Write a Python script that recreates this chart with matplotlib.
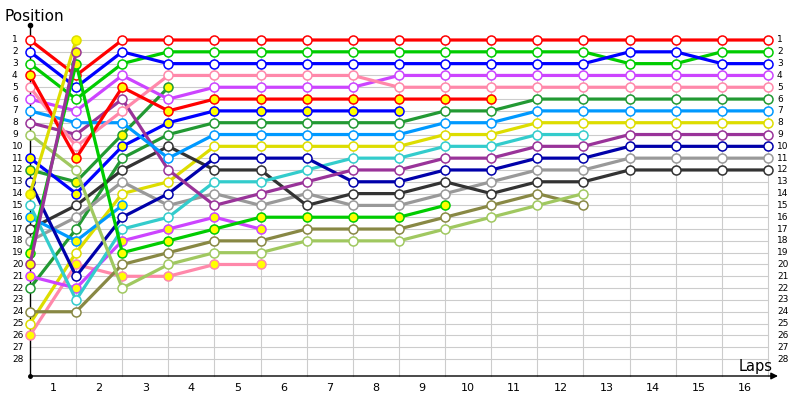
import matplotlib
matplotlib.use("Agg")
import matplotlib.pyplot as plt

N = None
laps = list(range(0, 17))
lap_labels = [str(i) for i in range(1, 17)]
positions = list(range(1, 29))

# position per column (start = column 0), None = retired
red_w      = [1, 4, 1, 1, 1, 1, 1, 1, 1, 1, 1, 1, 1, 1, 1, 1, 1]
blue_w     = [2, 5, 2, 3, 3, 3, 3, 3, 3, 3, 3, 3, 3, 2, 2, 3, 3]
green_w    = [3, 6, 3, 2, 2, 2, 2, 2, 2, 2, 2, 2, 2, 3, 3, 2, 2]
red_y      = [4, 11, 5, 7, 6, 6, 6, 6, 6, 6, 6, N, N, N, N, N, N]
pink_w     = [5, 10, 7, 4, 4, 4, 4, 4, 5, 5, 5, 5, 5, 5, 5, 5, 5]
violet_w   = [6, 7, 4, 6, 5, 5, 5, 5, 4, 4, 4, 4, 4, 4, 4, 4, 4]
azure_w    = [7, 8, 8, 11, 9, 9, 9, 9, 9, 8, 8, 7, 7, 7, 7, 7, 7]
purple_w   = [8, 9, 6, 12, 15, 14, 13, 12, 12, 11, 11, 10, 10, 9, 9, 9, 9]
lgreen_w   = [9, 12, 22, 20, 19, 19, 18, 18, 18, 17, 16, 15, 14, N, N, N, N]
blue_y     = [11, 14, 10, 8, 7, 7, 7, 7, 7, N, N, N, N, N, N, N, N]
dgreen_y   = [12, 13, 9, 5, N, N, N, N, N, N, N, N, N, N, N, N, N]
indigo_w   = [13, 21, 16, 14, 11, 11, 11, 13, 13, 12, 12, 11, 11, 10, 10, 10, 10]
yellow_y   = [14, 1, N, N, N, N, N, N, N, N, N, N, N, N, N, N, N]
cyan_w     = [15, 23, 17, 16, 13, 13, 12, 11, 11, 10, 10, 9, 9, N, N, N, N]
azure_y    = [16, 18, 15, N, N, N, N, N, N, N, N, N, N, N, N, N, N]
dgray_w    = [17, 15, 12, 10, 12, 12, 15, 14, 14, 13, 14, 13, 13, 12, 12, 12, 12]
gray_w     = [18, 16, 13, 15, 14, 15, 14, 15, 15, 14, 13, 12, 12, 11, 11, 11, 11]
green_y    = [19, 3, 19, 18, 17, 16, 16, 16, 16, 15, N, N, N, N, N, N, N]
purple_y   = [20, 2, N, N, N, N, N, N, N, N, N, N, N, N, N, N, N]
violet_y   = [21, 22, 18, 17, 16, 17, N, N, N, N, N, N, N, N, N, N, N]
dgreen_w   = [22, 17, 11, 9, 8, 8, 8, 8, 8, 7, 7, 6, 6, 6, 6, 6, 6]
olive_w    = [24, 24, 20, 19, 18, 18, 17, 17, 17, 16, 15, 14, 15, N, N, N, N]
yellow_w   = [25, 19, 14, 13, 10, 10, 10, 10, 10, 9, 9, 8, 8, 8, 8, 8, 8]
pink_y     = [26, 20, 21, 21, 20, 20, N, N, N, N, N, N, N, N, N, N, N]

WHITE, YEL = "#ffffff", "#ffff00"
series = [
    (pink_y, "#ff88aa", YEL), (yellow_w, "#dddd00", WHITE), (olive_w, "#888844", WHITE),
    (dgreen_w, "#229933", WHITE), (violet_y, "#cc44ff", YEL),
    (gray_w, "#999999", WHITE), (dgray_w, "#333333", WHITE), (azure_y, "#0099ff", YEL),
    (cyan_w, "#33cccc", WHITE), (indigo_w, "#0000aa", WHITE), (dgreen_y, "#229933", YEL),
    (blue_y, "#0000ff", YEL), (lgreen_w, "#a0c860", WHITE), (purple_w, "#993399", WHITE),
    (azure_w, "#0099ff", WHITE), (violet_w, "#cc44ff", WHITE), (pink_w, "#ff88aa", WHITE),
    (red_y, "#ff0000", YEL), (green_w, "#00cc00", WHITE), (blue_w, "#0000ff", WHITE),
    (red_w, "#ff0000", WHITE), (green_y, "#00cc00", YEL), (yellow_y, "#dddd00", YEL),
    (purple_y, "#993399", YEL),
]

fig = plt.figure(figsize=(8, 4), dpi=100)
ax = fig.add_axes([0, 0, 1, 1])
ax.set_axis_off()
px_x = 46.125
px_y = 11.815
ax.set_xlim(-30 / px_x, 770 / px_x)
ax.set_ylim(1 + 360 / px_y, 1 - 40 / px_y)

y_axis_bottom = 1 + 336 / px_y
grid_c = "#cccccc"
for p in positions:
    ax.plot([0, laps[-1]], [p, p], color=grid_c, lw=0.8, zorder=1)
for l in laps[1:]:
    ax.plot([l, l], [1, y_axis_bottom], color=grid_c, lw=0.8, zorder=1)

# axes
ax.plot([0, 0], [y_axis_bottom, 1 - 15 / px_y], color="black", lw=1.0, zorder=2)
ax.plot([0], [1 - 15 / px_y], marker="o", color="black", ms=3, zorder=2)
ax.annotate("", xy=(748 / px_x, y_axis_bottom), xytext=(0, y_axis_bottom),
            arrowprops=dict(arrowstyle="-|>", color="black", lw=1.0,
                            mutation_scale=10, shrinkA=0, shrinkB=0), zorder=2)
ax.plot([0], [y_axis_bottom], marker="o", color="black", ms=2.5, zorder=2)

for p in positions:
    ax.text(-18 / px_x, p, str(p), ha="left", va="center", fontsize=6.5,
            family="DejaVu Sans", color="black")
    ax.text(747 / px_x, p, str(p), ha="left", va="center", fontsize=6.5,
            family="DejaVu Sans", color="black")
for i, lab in enumerate(lap_labels):
    ax.text(i + 0.5, 1 + 348 / px_y, lab, ha="center", va="center", fontsize=8,
            color="black")

ax.text(-25 / px_x, 1 - 19 / px_y, "Position", ha="left", va="baseline", fontsize=11)
ax.text(709 / px_x, 1 + 331 / px_y, "Laps", ha="left", va="baseline", fontsize=10.5)

for z, (vals, col, face) in enumerate(series):
    xs = [l for l, v in zip(laps, vals) if v is not None]
    ys = [v for v in vals if v is not None]
    ax.plot(xs, ys, color=col, lw=2.3, marker="o", ms=6.5, mfc=face, mec=col,
            mew=1.1, zorder=3 + z, solid_joinstyle="round")

fig.savefig("out.png", dpi=100)
